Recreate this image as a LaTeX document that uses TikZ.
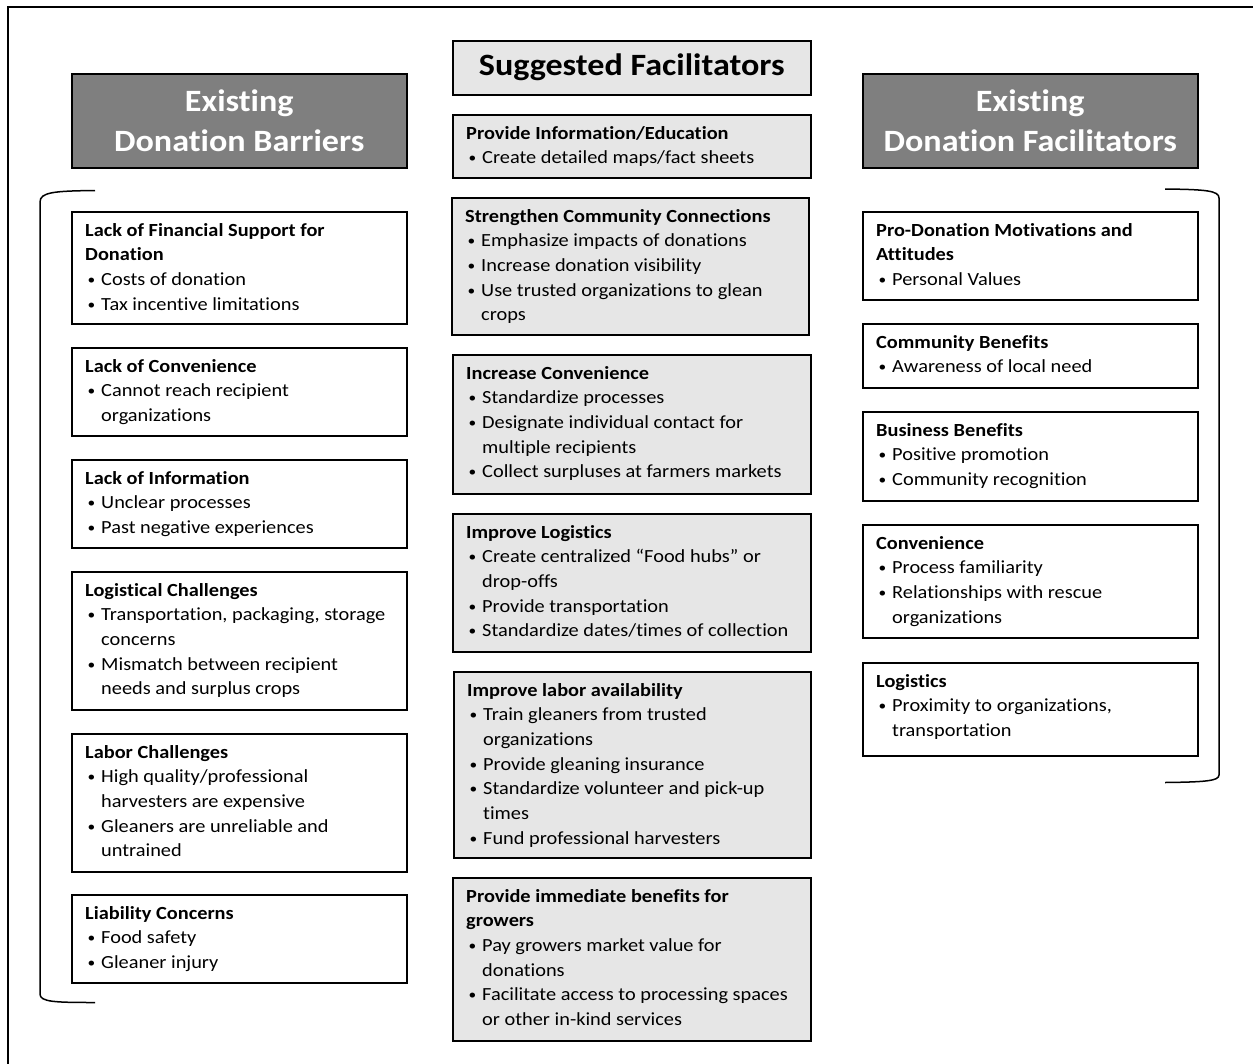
\documentclass[tikz,border=0pt]{standalone}
\usepackage{fontspec}
\setmainfont{Carlito}[Ligatures=NoCommon, FakeStretch=1.1]
\definecolor{headgrey}{HTML}{7F7F7F}
\definecolor{boxgrey}{HTML}{E6E6E6}
\newcommand\bul{\makebox[16pt][l]{\hspace{2.5pt}\raisebox{1pt}{\fontsize{14}{14}\selectfont •}}}
\newcommand\ind{\hspace*{16pt}}
\tikzset{
  frameline/.style={draw=black, line width=1.5pt},
  plainbox/.style={frameline, fill=white, inner sep=0pt, anchor=north west},
  lightbox/.style={frameline, fill=boxgrey, inner sep=0pt, anchor=north west},
  headbox/.style={frameline, fill=headgrey, inner sep=0pt, anchor=north west},
  bodytext/.style={anchor=base west, inner sep=0pt, font=\fontsize{18.5}{24.7}\selectfont},
  headtext/.style={align=center, inner sep=0pt, font=\fontsize{31}{40}\selectfont\bfseries},
  bracket/.style={draw=black, line width=1.5pt}
}
\newcommand\panel[7]{%
  \node[#2, minimum width=#5-#3, minimum height=#6-#4] (#1) at (#3,-#4) {};
  \node[bodytext] (#1t) at ([xshift=14pt,yshift=-25pt]#1.north west)
    {\begin{minipage}[t]{380pt}\raggedright #7\end{minipage}};
}
\begin{document}
\begin{tikzpicture}[x=1pt,y=1pt]
\useasboundingbox (0,0) rectangle (1253,-1063);
\fill[white] (0,0) rectangle (1253,-1063);
% outer frame (cut by the page)
\coordinate (fa) at (8,-1080);
\coordinate (fb) at (8,-7);
\coordinate (fc) at (1270,-7);
\draw[line width=1.2pt] (fa) -- (fb) -- (fc);

% ---------- left column ----------
\node[headbox, minimum width=335, minimum height=94] (lh) at (71,-73) {};
\node[headtext, text=white] (lht) at (lh.center) {Existing\\Donation Barriers};

\panel{l1}{plainbox}{71}{211}{406}{323}{\textbf{Lack of Financial Support for}\\\textbf{Donation}\\\bul Costs of donation\\\bul Tax incentive limitations}
\panel{l2}{plainbox}{71}{347}{406}{435}{\textbf{Lack of Convenience}\\\bul Cannot reach recipient\\\ind organizations}
\panel{l3}{plainbox}{71}{459}{406}{547}{\textbf{Lack of Information}\\\bul Unclear processes\\\bul Past negative experiences}
\panel{l4}{plainbox}{71}{571}{406}{709}{\textbf{Logistical Challenges}\\\bul Transportation, packaging, storage\\\ind concerns\\\bul Mismatch between recipient\\\ind needs and surplus crops}
\panel{l5}{plainbox}{71}{733}{406}{871}{\textbf{Labor Challenges}\\\bul High quality/professional\\\ind harvesters are expensive\\\bul Gleaners are unreliable and\\\ind untrained}
\panel{l6}{plainbox}{71}{894}{406}{982}{\textbf{Liability Concerns}\\\bul Food safety\\\bul Gleaner injury}

\coordinate (lbt) at (95,-190.5);
\coordinate (lbb) at (95,-1002.5);
\draw[bracket] (lbt) .. controls (55,-191) and (40,-192) .. (40,-202) -- (40,-994) .. controls (40,-1002) and (55,-1002.5) .. (lbb);

% ---------- middle column ----------
\node[lightbox, minimum width=358, minimum height=54] (mh) at (452,-40) {};
\node[headtext, text=black] (mht) at ([yshift=1pt]mh.center) {Suggested Facilitators};

\panel{m1}{lightbox}{452}{114}{810}{177}{\textbf{Provide Information/Education}\\\bul Create detailed maps/fact sheets}
\panel{m2}{lightbox}{451}{197}{808}{334}{\textbf{Strengthen Community Connections}\\\bul Emphasize impacts of donations\\\bul Increase donation visibility\\\bul Use trusted organizations to glean\\\ind crops}
\panel{m3}{lightbox}{452}{354}{810}{493}{\textbf{Increase Convenience}\\\bul Standardize processes\\\bul Designate individual contact for\\\ind multiple recipients\\\bul Collect surpluses at farmers markets}
\panel{m4}{lightbox}{452}{513}{810}{651}{\textbf{Improve Logistics}\\\bul Create centralized “Food hubs” or\\\ind drop-offs\\\bul Provide transportation\\\bul Standardize dates/times of collection}
\panel{m5}{lightbox}{453}{671}{810}{857}{\textbf{Improve labor availability}\\\bul Train gleaners from trusted\\\ind organizations\\\bul Provide gleaning insurance\\\bul Standardize volunteer and pick-up\\\ind times\\\bul Fund professional harvesters}
\panel{m6}{lightbox}{452}{877}{810}{1040}{\textbf{Provide immediate benefits for}\\\textbf{growers}\\\bul Pay growers market value for\\\ind donations\\\bul Facilitate access to processing spaces\\\ind or other in-kind services}

% ---------- right column ----------
\node[headbox, minimum width=335, minimum height=94] (rh) at (862,-73) {};
\node[headtext, text=white] (rht) at (rh.center) {Existing\\Donation Facilitators};

\panel{r1}{plainbox}{862}{211}{1197}{299}{\textbf{Pro-Donation Motivations and}\\\textbf{Attitudes}\\\bul Personal Values}
\panel{r2}{plainbox}{862}{323}{1197}{387}{\textbf{Community Benefits}\\\bul Awareness of local need}
\panel{r3}{plainbox}{862}{411}{1197}{500}{\textbf{Business Benefits}\\\bul Positive promotion\\\bul Community recognition}
\panel{r4}{plainbox}{862}{524}{1197}{637}{\textbf{Convenience}\\\bul Process familiarity\\\bul Relationships with rescue\\\ind organizations}
\panel{r5}{plainbox}{862}{662}{1197}{755}{\textbf{Logistics}\\\bul Proximity to organizations,\\\ind transportation}

\coordinate (rbt) at (1165,-189);
\coordinate (rbb) at (1165,-782.5);
\draw[bracket] (rbt) .. controls (1205,-189.5) and (1219,-190.5) .. (1219,-198) -- (1219,-775) .. controls (1219,-781) and (1205,-782) .. (rbb);
\end{tikzpicture}
\end{document}
